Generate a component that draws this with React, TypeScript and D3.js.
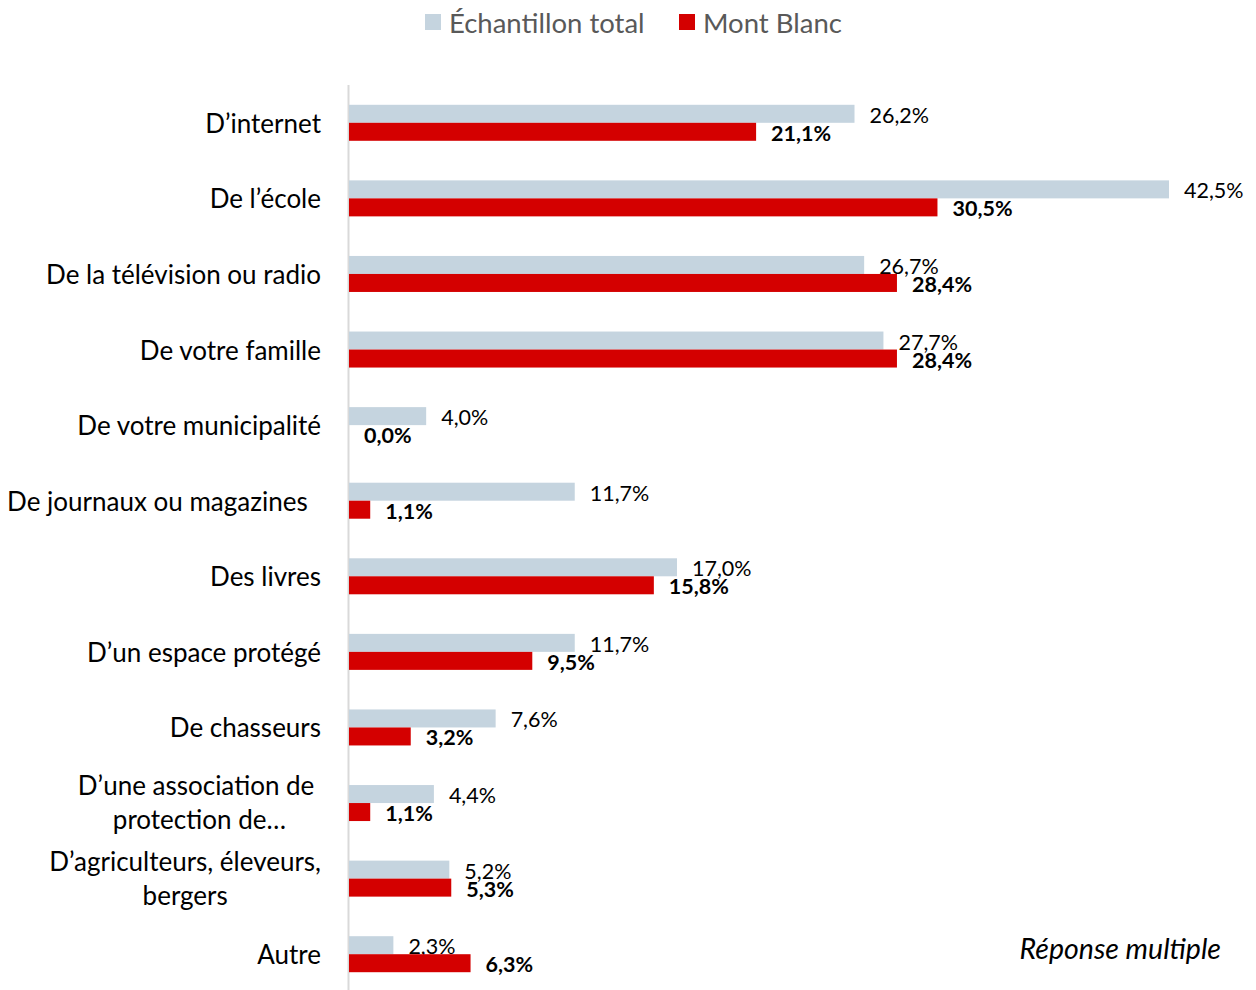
import * as d3 from "d3";
import React, { RefObject, useEffect, useRef } from "react";

const categories = [
  "D’internet",
  "De l’école",
  "De la télévision ou radio",
  "De votre famille",
  "De votre municipalité",
  "De journaux ou magazines\u00a0\u00a0",
  "Des livres",
  "D’un espace protégé",
  "De chasseurs",
  "D’une association de\u00a0|protection de…",
  "D’agriculteurs, éleveurs,|bergers",
  "Autre",
];
const totalValues = [26.2, 42.5, 26.7, 27.7, 4.0, 11.7, 17.0, 11.7, 7.6, 4.4, 5.2, 2.3];
const montBlancValues = [21.1, 30.5, 28.4, 28.4, 0.0, 1.1, 15.8, 9.5, 3.2, 1.1, 5.3, 6.3];
const seriesNames = ["Échantillon total", "Mont Blanc"];
const seriesColors = ["#c5d4df", "#d40000"];

const W = 1256;
const H = 990;
const FONT = "Lato, 'Open Sans', sans-serif";

const fmt = (v: number) => v.toFixed(1).replace(".", ",") + "%";

const App = () => {
  const ref: RefObject<HTMLDivElement> = useRef(null);

  useEffect(() => {
    const root = d3.select(ref.current);
    root.selectAll("*").remove();
    const svg = root
      .append("svg")
      .attr("width", W)
      .attr("height", H)
      .style("position", "absolute")
      .style("left", "0px")
      .style("top", "0px")
      .style("font-family", FONT);

    const x = d3.scaleLinear().domain([0, 45]).range([349, 349 + (820 / 42.5) * 45]);
    const y = d3.scaleBand().domain(categories).range([85, 992]);
    const sub = d3.scaleBand().domain(seriesNames).range([0, 36]);
    const barOffset = (y.bandwidth() - 36) / 2;

    // axis line
    svg.append("line")
      .attr("x1", 348.5).attr("x2", 348.5)
      .attr("y1", 85).attr("y2", H)
      .attr("stroke", "#d9d9d9")
      .attr("stroke-width", 2);

    const series = [totalValues, montBlancValues];
    series.forEach((vals, si) => {
      const g = svg.append("g");
      g.selectAll("rect")
        .data(vals)
        .enter()
        .append("rect")
        .attr("x", x(0))
        .attr("y", (d, i) => (y(categories[i]) as number) + barOffset + (sub(seriesNames[si]) as number))
        .attr("width", (d) => x(d) - x(0))
        .attr("height", sub.bandwidth())
        .attr("fill", seriesColors[si]);

      g.selectAll("text")
        .data(vals)
        .enter()
        .append("text")
        .attr("x", (d) => x(d) + 15)
        .attr("y", (d, i) => (y(categories[i]) as number) + barOffset + (sub(seriesNames[si]) as number) + sub.bandwidth() / 2 + 1)
        .attr("dominant-baseline", "central")
        .attr("font-size", 21.5)
        .attr("font-weight", si === 1 ? "bold" : "normal")
        .attr("fill", "#000")
        .text((d) => fmt(d));
    });

    // category labels
    const labelRight = 321;
    categories.forEach((c) => {
      const lines = c.split("|");
      const cy = (y(c) as number) + y.bandwidth() / 2;
      if (lines.length === 1) {
        svg.append("text")
          .attr("x", labelRight)
          .attr("y", cy)
          .attr("text-anchor", "end")
          .attr("dominant-baseline", "central")
          .attr("font-size", 26)
          .attr("fill", "#000")
          .style("white-space", "pre")
          .text(lines[0]);
      } else {
        const t = svg.append("text")
          .attr("text-anchor", "middle")
          .attr("font-size", 26)
          .attr("fill", "#000")
          .style("white-space", "pre");
        const spans = lines.map((l, li) =>
          t.append("tspan")
            .attr("y", cy - 1 + (li - (lines.length - 1) / 2) * 34)
            .attr("dominant-baseline", "central")
            .text(l)
        );
        const maxW = d3.max(spans, (s) => (s.node() as SVGTSpanElement).getComputedTextLength()) as number;
        spans.forEach((s) => s.attr("x", labelRight - maxW / 2));
      }
    });

    // legend
    const legend = svg.append("g");
    const legendX = [425, 679];
    seriesNames.forEach((n, i) => {
      legend.append("rect")
        .attr("x", legendX[i])
        .attr("y", 14)
        .attr("width", 16)
        .attr("height", 16)
        .attr("fill", seriesColors[i]);
      legend.append("text")
        .attr("x", legendX[i] + 24)
        .attr("y", 22)
        .attr("dominant-baseline", "central")
        .attr("font-size", 27.5)
        .attr("fill", "#595959")
        .text(n);
    });

    svg.append("text")
      .attr("x", 1221)
      .attr("y", 948)
      .attr("text-anchor", "end")
      .attr("dominant-baseline", "central")
      .attr("font-size", 28.5)
      .attr("font-style", "italic")
      .attr("fill", "#000")
      .text("Réponse multiple");
  }, [ref]);

  return <div ref={ref} />;
};

export default App;
